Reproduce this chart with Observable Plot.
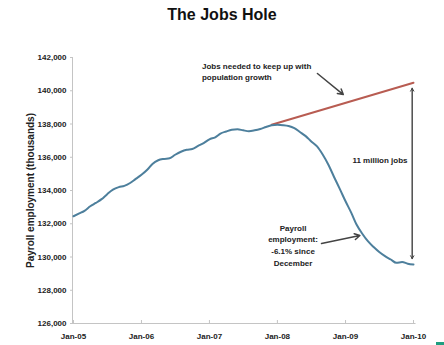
<!DOCTYPE html>
<html>
<head>
<meta charset="utf-8">
<script src="https://cdn.jsdelivr.net/npm/d3@7"></script>
<script src="https://cdn.jsdelivr.net/npm/@observablehq/plot@0.6"></script>
<style>
  html, body { margin: 0; padding: 0; background: #fff; }
  #wrap { position: relative; width: 444px; height: 345px; overflow: hidden; }
  #title { height: 30px; line-height: 30px; text-align: center; font-family: "Liberation Sans Narrow", "Liberation Sans", Arial, sans-serif; font-weight: bold; font-size: 16px; color: #111; }
  #corner { position: absolute; left: 436px; top: 342px; width: 10px; height: 4px; background: #1f9e80; }
</style>
</head>
<body>
<div id="wrap">
  <div id="title">The Jobs Hole</div>
  <div id="chart"></div>
  <div id="corner"></div>
</div>
<script>
// Payroll employment, thousands, monthly Jan-2005 .. Jan-2010
const startMonth = "2005-01";
const payroll = [
  132450, 132620, 132780, 133050, 133250, 133480, 133780, 134050, 134200, 134280, 134450, 134700,
  134950, 135250, 135600, 135820, 135900, 135940, 136150, 136330, 136450, 136500, 136680, 136850,
  137080, 137200, 137420, 137550, 137650, 137680, 137620, 137570, 137620, 137700, 137820, 137920,
  137950, 137930, 137880, 137750, 137520, 137270, 136950, 136650, 136150, 135550, 134800, 134100,
  133350, 132650, 131950, 131400, 130950, 130600, 130300, 130050, 129850, 129650, 129700, 129600,
  129550
];
// Jobs needed to keep up with population growth (trend line)
const trendDates = ["2007-12-01", "2010-01-01"];
const trendValues = [137950, 140480];

// Axis ticks
const yTicks = [126000, 128000, 130000, 132000, 134000, 136000, 138000, 140000, 142000];
const xTickDates = ["2005-01-01", "2006-01-01", "2007-01-01", "2008-01-01", "2009-01-01", "2010-01-01"];
const xTickLabels = ["Jan-05", "Jan-06", "Jan-07", "Jan-08", "Jan-09", "Jan-10"];

// Annotations (data coordinates)
const noteJobs = {date: "2006-11-22", value: 141190, text: "Jobs needed to keep up with\npopulation growth"};
const noteJobsArrow = {from: ["2008-08-03", 141040], to: ["2008-12-20", 139770]};
const noteGap = {date: "2009-07-05", value: 135800, text: "11 million jobs"};
const gapArrow = {date: "2009-12-25", from: 140150, to: 129900};
const notePayroll = {date: "2008-03-25", value: 130750, text: "Payroll\nemployment:\n-6.1% since\nDecember"};
const payrollArrow = {from: ["2008-08-25", 130810], to: ["2009-03-19", 131290]};

const parse = d3.utcParse("%Y-%m-%d");
const t0 = d3.utcParse("%Y-%m")(startMonth);
const series = payroll.map((v, i) => ({date: d3.utcMonth.offset(t0, i), value: v}));
const trend = trendDates.map((d, i) => ({date: parse(d), value: trendValues[i]}));
const xt = xTickDates.map(parse);
const labelOf = new Map(xt.map((d, i) => [+d, xTickLabels[i]]));

const font = '"Liberation Sans Narrow", "Liberation Sans", Arial, sans-serif';

const chart = Plot.plot({
  width: 444,
  height: 315,
  marginLeft: 73,
  marginRight: 31,
  marginTop: 27,
  marginBottom: 22,
  style: {fontFamily: font, fontSize: "8px", fontWeight: "bold", color: "#222", background: "#fff"},
  x: {type: "utc", domain: [parse("2005-01-01"), parse("2010-01-01")]},
  y: {domain: [126000, 142000]},
  marks: [
    // axes lines
    Plot.ruleX([parse("2005-01-01")], {stroke: "#c4c4c4", strokeWidth: 1, dx: -1}),
    Plot.ruleY([126000], {x1: parse("2005-01-01"), x2: parse("2010-01-20"), stroke: "#c4c4c4", strokeWidth: 1, dx: -1}),
    Plot.axisY({ticks: yTicks, tickFormat: d3.format(","), tickSize: 3, tickPadding: 4, stroke: "#c4c4c4",
      label: null, fontSize: 8}),
    Plot.axisY({ticks: [], label: "Payroll employment (thousands)", labelAnchor: "center", labelArrow: "none",
      labelOffset: 47, fontSize: 10}),
    Plot.axisX({ticks: xt, tickFormat: d => labelOf.get(+d), tickSize: 3, tickPadding: 10, stroke: "#c4c4c4", label: null, dy: -3}),
    // data
    Plot.line(trend, {x: "date", y: "value", stroke: "#b85c52", strokeWidth: 2}),
    Plot.line(series, {x: "date", y: "value", stroke: "#4d7f9c", strokeWidth: 2, curve: "monotone-x"}),
    // annotations
    Plot.text([noteJobs], {x: d => parse(d.date), y: "value", text: "text", textAnchor: "start",
      lineHeight: 1.35, fill: "#222", fontSize: 8}),
    Plot.arrow([noteJobsArrow], {x1: d => parse(d.from[0]), y1: d => d.from[1], x2: d => parse(d.to[0]), y2: d => d.to[1],
      stroke: "#444", strokeWidth: 1.5, headLength: 6, bend: 0}),
    Plot.text([noteGap], {x: d => parse(d.date), y: "value", text: "text", textAnchor: "middle", fill: "#222", fontSize: 8}),
    Plot.arrow([gapArrow], {x1: d => parse(d.date), x2: d => parse(d.date), y1: "from", y2: "to", stroke: "#444", strokeWidth: 1, headLength: 5}),
    Plot.arrow([gapArrow], {x1: d => parse(d.date), x2: d => parse(d.date), y1: "to", y2: "from", stroke: "#444", strokeWidth: 1, headLength: 5}),
    Plot.text([notePayroll], {x: d => parse(d.date), y: "value", text: "text",
      textAnchor: "middle", lineHeight: 1.45, fill: "#222", fontSize: 8}),
    Plot.arrow([payrollArrow], {x1: d => parse(d.from[0]), y1: d => d.from[1], x2: d => parse(d.to[0]), y2: d => d.to[1],
      stroke: "#444", strokeWidth: 1.5, headLength: 6, bend: 0})
  ]
});
document.getElementById("chart").appendChild(chart);
</script>
</body>
</html>
